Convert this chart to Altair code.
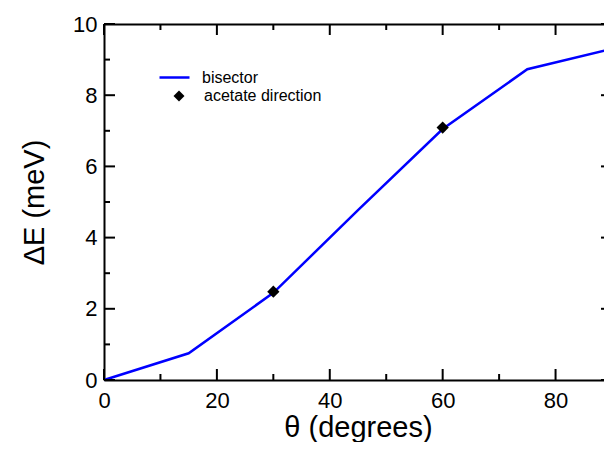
import altair as alt
import pandas as pd

# Data
theta_line = [0, 15, 30, 45, 60, 75, 90]
de_line = [0.0, 0.75, 2.45, 4.77, 7.05, 8.73, 9.30]
theta_pts = [30, 60, 90]
de_pts = [2.48, 7.09, 9.30]
x_major = [0, 20, 40, 60, 80]
x_minor = [10, 30, 50, 70]
y_major = [0, 2, 4, 6, 8, 10]
y_minor = [1, 3, 5, 7, 9]

line_df = pd.DataFrame({"theta": theta_line, "dE": de_line, "series": ["bisector"] * len(theta_line)})
pts_df = pd.DataFrame({"theta": theta_pts, "dE": de_pts, "series": ["acetate direction"] * len(theta_pts)})

FONT = "Liberation Sans"
W, H = 508, 356
MAJOR, MINOR = 11, 6
xscale = alt.Scale(domain=[0, 90], nice=False, zero=False)
yscale = alt.Scale(domain=[0, 10], nice=False, zero=False)


def frame_axis(orient, values=None, labels=False, title=None, **kw):
    d = dict(grid=False, domainColor="black", domainWidth=2, ticks=False,
             labelFont=FONT, labelFontSize=22, labelColor="black", labelFlush=False,
             titleFont=FONT, titleFontSize=29, titleFontWeight="normal", titleColor="black")
    d.update(kw)
    if values is not None:
        d["values"] = values
    return alt.Axis(orient=orient, labels=labels, title=title, **d)


line = alt.Chart(line_df).mark_line(strokeWidth=2.5).encode(
    x=alt.X("theta:Q", scale=xscale,
            axis=frame_axis("bottom", x_major, labels=True, title="θ (degrees)", labelPadding=10,
                            titleBaseline="alphabetic", titleX=W / 2, titleY=56)),
    y=alt.Y("dE:Q", scale=yscale,
            axis=frame_axis("left", y_major, labels=True, title="ΔE (meV)", labelPadding=7,
                            titleAngle=-90, titleBaseline="alphabetic", titleX=-61, titleY=H / 2)),
    color=alt.Color("series:N", scale=alt.Scale(domain=["bisector"], range=["#0000ff"]),
                    legend=alt.Legend(orient="none", legendX=54, legendY=37, title=None,
                                      symbolType="stroke", symbolSize=900, symbolStrokeWidth=2.5,
                                      labelFont=FONT, labelFontSize=16, labelColor="black",
                                      labelOffset=11, padding=0)),
)

points = alt.Chart(pts_df).mark_point(filled=True, color="black", size=150, opacity=1).encode(
    x=alt.X("theta:Q", scale=xscale, axis=frame_axis("top", x_major)),
    y=alt.Y("dE:Q", scale=yscale, axis=frame_axis("right", y_major)),
    shape=alt.Shape("series:N", scale=alt.Scale(domain=["acetate direction"], range=["diamond"]),
                    legend=alt.Legend(orient="none", legendX=67, legendY=64, title=None,
                                      symbolSize=120, symbolFillColor="black", symbolStrokeColor="black",
                                      labelFont=FONT, labelFontSize=16, labelColor="black",
                                      labelOffset=17, padding=0)),
)


# inward tick marks on all four sides, positioned through the shared scales
def xticks(values, length, top):
    df = pd.DataFrame({"theta": values})
    y0, y1 = (0, length) if top else (H, H - length)
    return alt.Chart(df).mark_rule(color="black", strokeWidth=2).encode(
        x=alt.X("theta:Q", scale=xscale, axis=None),
        y=alt.value(y0), y2=alt.value(y1))


def yticks(values, length, right):
    df = pd.DataFrame({"dE": values})
    x0, x1 = (W, W - length) if right else (0, length)
    return alt.Chart(df).mark_rule(color="black", strokeWidth=2).encode(
        y=alt.Y("dE:Q", scale=yscale, axis=None),
        x=alt.value(x0), x2=alt.value(x1))


tick_layers = [
    xticks(x_major, MAJOR, False), xticks(x_minor, MINOR, False),
    xticks(x_major, MAJOR, True), xticks(x_minor, MINOR, True),
    yticks(y_major, MAJOR, False), yticks(y_minor, MINOR, False),
    yticks(y_major, MAJOR, True), yticks(y_minor, MINOR, True),
]

chart = alt.layer(line, points, *tick_layers).resolve_axis(
    x="independent", y="independent"
).resolve_legend(color="independent", shape="independent").properties(
    width=W, height=H,
    padding={"left": 96, "top": 16, "right": -8, "bottom": 62},
    autosize=alt.AutoSizeParams(type="none"),
).configure_view(stroke=None)

chart.save("out.html", embed_options={"renderer": "svg", "actions": False})
